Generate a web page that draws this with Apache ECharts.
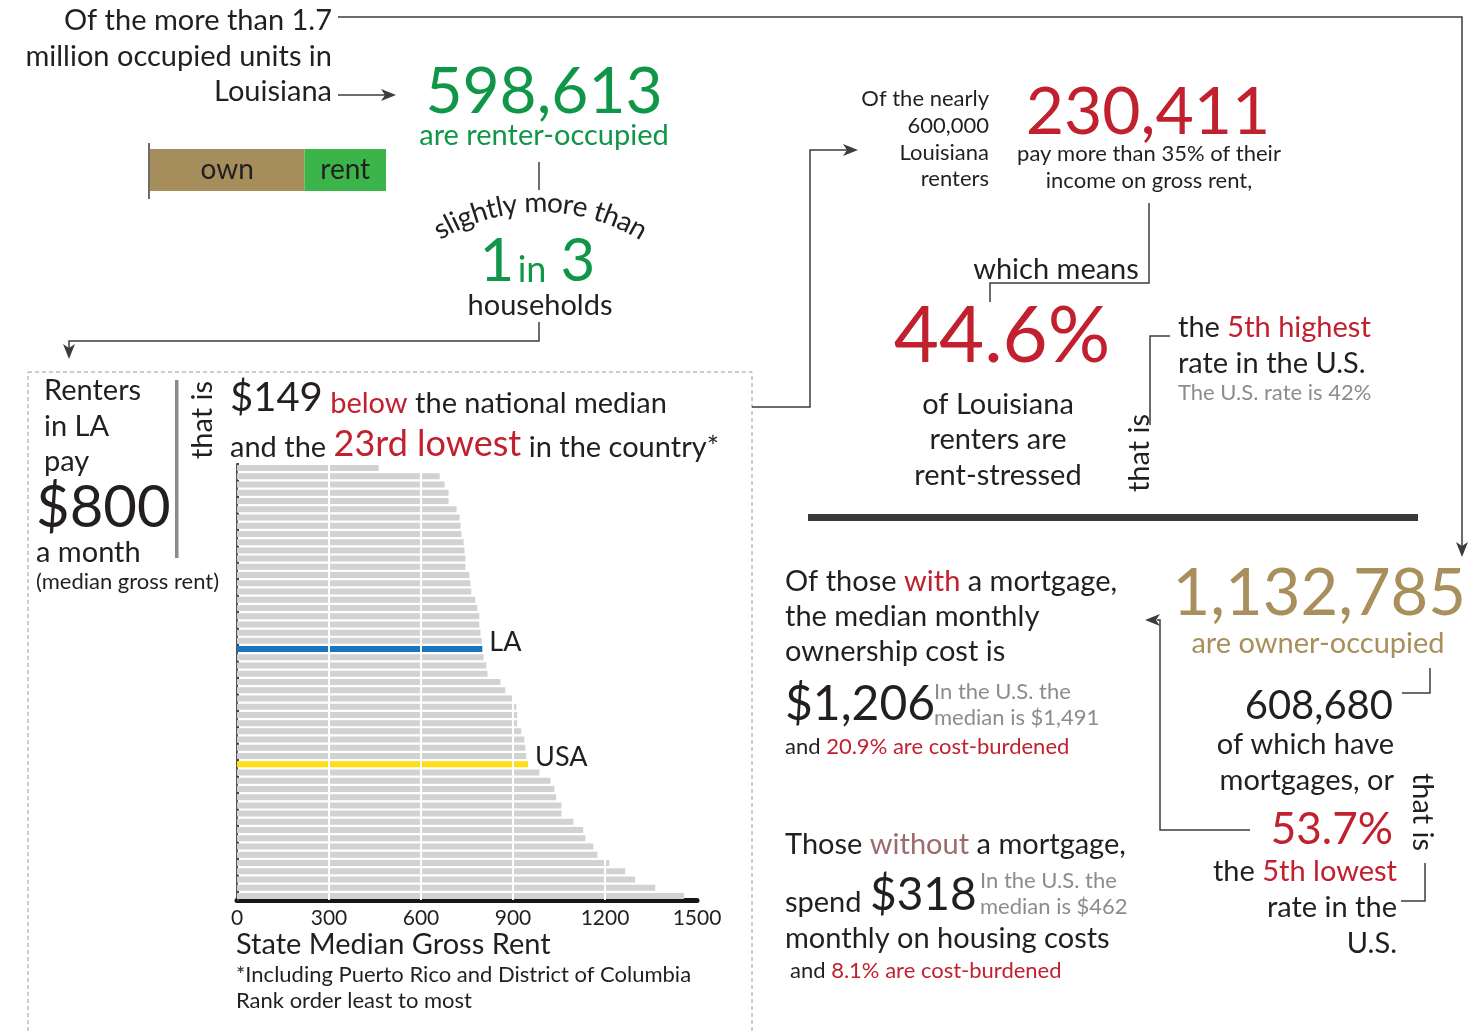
<!DOCTYPE html>
<html>
<head>
<meta charset="utf-8">
<title>Louisiana housing</title>
<script src="https://cdn.jsdelivr.net/npm/echarts@6/dist/echarts.min.js"></script>
<style>
  html, body { margin: 0; padding: 0; background: #fff; }
  #main { width: 1468px; height: 1031px; }
</style>
</head>
<body>
<div id="main"></div>
<script>
// state median gross rent, rank order least to most (incl. PR, DC and the USA value)
var rents = [462, 661, 677, 690, 690, 716, 726, 729, 732, 739, 742, 745, 745, 758, 761, 764, 777, 784, 790, 790,
  794, 798, 800, 804, 813, 817, 859, 875, 898, 911, 914, 914, 927, 937, 940, 943, 949,
  986, 1022, 1035, 1041, 1058, 1058, 1097, 1129, 1136, 1162, 1175, 1214, 1266, 1298, 1364, 1458];
var markedNames = ['LA', 'USA'];
var markedRanks = [22, 36];
var markedColors = ['#1b75bb', '#ffdd15'];
var rentTicks = [0, 300, 600, 900, 1200, 1500];

// occupied units
var tenure = ['own', 'rent'];
var tenureUnits = [1132785, 598613];

var F = 'Lato, "Noto Sans", sans-serif';
var DARK = '#231f20', RED = '#c1202f', GREEN = '#109648', GOLD = '#a88f5b', GRAY = '#8c8c8c', LINE = '#3d3d3d';
var B = 29, S = 22;   // body / small text size

var chart = echarts.init(document.getElementById('main'), null, { renderer: 'canvas' });

function T(x, y, text, size, fill, align, rich) {
  var st = { text: text, fontSize: size, fontFamily: F, fill: fill || DARK, align: align || 'left', verticalAlign: 'middle' };
  if (rich) st.rich = rich;
  return { type: 'text', x: x, y: y, z: 10, style: st };
}
function tok(size, fill, lh) {
  var t = { fontSize: size, fontFamily: F, fill: fill, verticalAlign: 'bottom' };
  if (lh) t.lineHeight = lh;
  return t;
}
function L(points, w) {
  return { type: 'polyline', z: 5, shape: { points: points }, style: { stroke: LINE, lineWidth: w || 1.5, fill: null } };
}
function arrow(x, y, dir) {
  var p;
  if (dir === 'right') p = [[x, y], [x - 15, y - 6], [x - 11, y], [x - 15, y + 6]];
  else if (dir === 'left') p = [[x, y], [x + 15, y - 6], [x + 11, y], [x + 15, y + 6]];
  else p = [[x, y], [x - 6, y - 15], [x, y - 11], [x + 6, y - 15]];
  return { type: 'polygon', z: 5, shape: { points: p }, style: { fill: LINE } };
}
function vert(x, y, text, rot) {
  return { type: 'text', x: x, y: y, rotation: rot, z: 10,
    style: { text: text, fontSize: B, fontFamily: F, fill: DARK, align: 'center', verticalAlign: 'middle' } };
}

// curved "slightly more than"
function arcText(str, cx, cy, r, size) {
  var ctx = document.createElement('canvas').getContext('2d');
  ctx.font = size + 'px ' + F;
  var total = ctx.measureText(str).width;
  var out = [], s = 0;
  for (var i = 0; i < str.length; i++) {
    var w = ctx.measureText(str[i]).width;
    var a = (s + w / 2 - total / 2) / r;
    out.push({
      type: 'text', z: 10,
      x: cx + r * Math.sin(a), y: cy - r * Math.cos(a), rotation: -a,
      style: { text: str[i], fontSize: size, fontFamily: F, fill: DARK, align: 'center', verticalAlign: 'middle' }
    });
    s += w;
  }
  return out;
}

var g = [];
// top left intro
g.push(T(332, 21, 'Of the more than 1.7', B, DARK, 'right'));
g.push(T(332, 57, 'million occupied units in', B, DARK, 'right'));
g.push(T(332, 92, 'Louisiana', B, DARK, 'right'));
g.push(L([[338, 17], [1462, 17], [1462, 548]]));
g.push(arrow(1462, 557, 'down'));
g.push(L([[338, 95], [386, 95]]));
g.push(arrow(396, 95, 'right'));
g.push(L([[149, 143], [149, 199]], 1.5));

// renters
g.push(T(544, 92, '598,613', 64, GREEN, 'center'));
g.push(T(544, 136, 'are renter-occupied', B, GREEN, 'center'));
g.push(L([[539, 162], [539, 190]]));
g = g.concat(arcText('slightly more than', 540, 403, 200, 28));
g.push(T(497, 262, '1', 60, GREEN, 'center'));
g.push(T(532, 270, 'in', 36, GREEN, 'center'));
g.push(T(578, 262, '3', 60, GREEN, 'center'));
g.push(T(540, 306, 'households', B, DARK, 'center'));
g.push(L([[539, 322], [539, 341], [69, 341], [69, 350]]));
g.push(arrow(69, 359, 'down'));

// dashed panel
g.push({ type: 'rect', z: 1, shape: { x: 28, y: 372, width: 724, height: 680 },
  style: { fill: null, stroke: '#9a9a9a', lineWidth: 1, lineDash: [4, 3] } });
g.push(T(44, 391, 'Renters', B));
g.push(T(44, 427, 'in LA', B));
g.push(T(44, 462, 'pay', B));
g.push(T(36, 508, '$800', 58));
g.push(T(36, 553, 'a month', B));
g.push(T(36, 582, '(median gross rent)', S));
g.push({ type: 'rect', z: 5, shape: { x: 175, y: 380, width: 3.5, height: 178 }, style: { fill: '#8a8a8a' } });
g.push(vert(203, 420, 'that is', Math.PI / 2));
g.push(T(230, 398, '{b|$149} {r|below} {n|the national median}', B, DARK, 'left',
  { b: tok(40, DARK), r: tok(B, RED, 41), n: tok(B, DARK, 41) }));
g.push(T(230, 443, '{n|and the} {r|23rd lowest} {n|in the country*}', B, DARK, 'left',
  { r: tok(36, RED), n: tok(B, DARK, 38) }));
g.push(T(236, 945, 'State Median Gross Rent', B));
g.push(T(236, 975, '*Including Puerto Rico and District of Columbia', S));
g.push(T(236, 1001, 'Rank order least to most', S));

// rent burden
g.push(L([[752, 407], [810, 407], [810, 150], [848, 150]]));
g.push(arrow(858, 150, 'right'));
g.push(T(989, 99, 'Of the nearly', S, DARK, 'right'));
g.push(T(989, 126, '600,000', S, DARK, 'right'));
g.push(T(989, 153, 'Louisiana', S, DARK, 'right'));
g.push(T(989, 179, 'renters', S, DARK, 'right'));
g.push(T(1148, 113, '230,411', 66, RED, 'center'));
g.push(T(1149, 154, 'pay more than 35% of their', S, DARK, 'center'));
g.push(T(1149, 181, 'income on gross rent,', S, DARK, 'center'));
g.push(L([[1149, 203], [1149, 283], [990, 283], [990, 302]]));
g.push(T(1056, 270, 'which means', B, DARK, 'center'));
g.push(T(1002, 337, '44.6%', 78, RED, 'center'));
g.push(T(998, 405, 'of Louisiana', B, DARK, 'center'));
g.push(T(998, 440, 'renters are', B, DARK, 'center'));
g.push(T(998, 476, 'rent-stressed', B, DARK, 'center'));
g.push(vert(1140, 453, 'that is', Math.PI / 2));
g.push(L([[1170, 336], [1150, 336], [1150, 425]]));
g.push(T(1178, 328, '{n|the} {r|5th highest}', B, DARK, 'left', { r: tok(B, RED), n: tok(B, DARK) }));
g.push(T(1178, 364, 'rate in the U.S.', B));
g.push(T(1178, 393, 'The U.S. rate is 42%', S, GRAY));
g.push({ type: 'rect', z: 5, shape: { x: 808, y: 514, width: 610, height: 7 }, style: { fill: '#3a3a3a' } });

// owners
g.push(T(1466, 594, '1,132,785', 65, GOLD, 'right'));
g.push(T(1318, 644, 'are owner-occupied', B, GOLD, 'center'));
g.push(L([[1402, 693], [1430, 693], [1430, 668]]));
g.push(T(1393, 706, '608,680', 40, DARK, 'right'));
g.push(T(1394, 745, 'of which have', B, DARK, 'right'));
g.push(T(1394, 781, 'mortgages, or', B, DARK, 'right'));
g.push(T(1393, 830, '53.7%', 44, RED, 'right'));
g.push(T(1397, 872, '{n|the} {r|5th lowest}', B, DARK, 'right', { r: tok(B, RED), n: tok(B, DARK) }));
g.push(T(1397, 908, 'rate in the', B, DARK, 'right'));
g.push(T(1397, 944, 'U.S.', B, DARK, 'right'));
g.push(vert(1422, 812, 'that is', -Math.PI / 2));
g.push(L([[1401, 901], [1425, 901], [1425, 863]]));
g.push(L([[1250, 830], [1160, 830], [1160, 620], [1157, 620]]));
g.push(arrow(1145, 620, 'left'));

g.push(T(785, 582, '{n|Of those} {r|with} {n|a mortgage,}', B, DARK, 'left', { r: tok(B, RED), n: tok(B, DARK) }));
g.push(T(785, 617, 'the median monthly', B));
g.push(T(785, 652, 'ownership cost is', B));
g.push(T(785, 705, '$1,206', 48));
g.push(T(934, 692, 'In the U.S. the', S, GRAY));
g.push(T(934, 718, 'median is $1,491', S, GRAY));
g.push(T(785, 747, '{n|and} {r|20.9% are cost-burdened}', S, DARK, 'left', { r: tok(S, RED), n: tok(S, DARK) }));
g.push(T(785, 845, '{n|Those} {r|without} {n|a mortgage,}', B, DARK, 'left', { r: tok(B, '#9b6b6e'), n: tok(B, DARK) }));
g.push(T(785, 903, 'spend', B));
g.push(T(870, 895, '$318', 46));
g.push(T(980, 881, 'In the U.S. the', S, GRAY));
g.push(T(980, 907, 'median is $462', S, GRAY));
g.push(T(785, 939, 'monthly on housing costs', B));
g.push(T(790, 971, '{n|and} {r|8.1% are cost-burdened}', S, DARK, 'left', { r: tok(S, RED), n: tok(S, DARK) }));

// bar data
var ranks = rents.map(function (v, i) { return i + 1; });
var barData = rents.map(function (v, i) {
  var k = markedRanks.indexOf(i);
  return k < 0 ? v : { value: v, itemStyle: { color: markedColors[k] } };
});
// transparent overlay that only carries the LA / USA labels above the white grid lines
var labelData = rents.map(function (v, i) {
  var k = markedRanks.indexOf(i);
  if (k < 0) return '-';
  return {
    value: v,
    label: { show: true, position: 'right', distance: 7, offset: [0, -7], formatter: markedNames[k],
      fontSize: 27, fontFamily: F, color: DARK }
  };
});

var option = {
  animation: false,
  backgroundColor: '#fff',
  grid: [
    { left: 237, top: 464, width: 460, height: 436 },
    { left: 150, top: 149, width: 236, height: 42 }
  ],
  xAxis: [{
    gridIndex: 0, type: 'value', min: 0, max: rentTicks[rentTicks.length - 1], interval: 300,
    axisLine: { show: true, lineStyle: { color: '#151515', width: 5 } },
    axisTick: { show: false },
    splitLine: { show: false },
    axisLabel: { fontSize: 21, fontFamily: F, color: DARK, margin: 8, formatter: function (v) { return String(v); } }
  }, {
    gridIndex: 1, type: 'value', min: 0, max: tenureUnits[0] + tenureUnits[1], show: false
  }],
  yAxis: [{
    gridIndex: 0, type: 'category', data: ranks, inverse: true,
    axisLine: { show: true, lineStyle: { color: '#555', width: 2 } },
    axisTick: { show: true, inside: true, length: 2, lineStyle: { color: '#444', width: 2 } },
    axisLabel: { show: false }
  }, {
    gridIndex: 1, type: 'category', data: ['units'], show: false
  }],
  series: [{
    type: 'bar', xAxisIndex: 0, yAxisIndex: 0, data: barData, barWidth: 6,
    itemStyle: { color: '#d1d2d4' },
    markLine: {
      silent: true, symbol: 'none', label: { show: false },
      lineStyle: { color: '#fff', width: 2, type: 'solid' },
      data: rentTicks.slice(1, -1).map(function (t) { return { xAxis: t }; })
    }
  }, {
    type: 'bar', xAxisIndex: 0, yAxisIndex: 0, data: labelData, barWidth: 6, barGap: '-100%', z: 10,
    itemStyle: { color: 'rgba(0,0,0,0)' }, silent: true
  }, {
    name: tenure[0], type: 'bar', stack: 'u', xAxisIndex: 1, yAxisIndex: 1, barWidth: 42,
    data: [tenureUnits[0]], itemStyle: { color: '#a68d5c' },
    label: { show: true, position: 'inside', formatter: '{a}', fontSize: 28, fontFamily: F, color: DARK, textBorderWidth: 0 }
  }, {
    name: tenure[1], type: 'bar', stack: 'u', xAxisIndex: 1, yAxisIndex: 1, barWidth: 42,
    data: [tenureUnits[1]], itemStyle: { color: '#3bb44a' },
    label: { show: true, position: 'inside', formatter: '{a}', fontSize: 28, fontFamily: F, color: DARK, textBorderWidth: 0 }
  }],
  graphic: g
};

chart.setOption(option);
</script>
</body>
</html>
